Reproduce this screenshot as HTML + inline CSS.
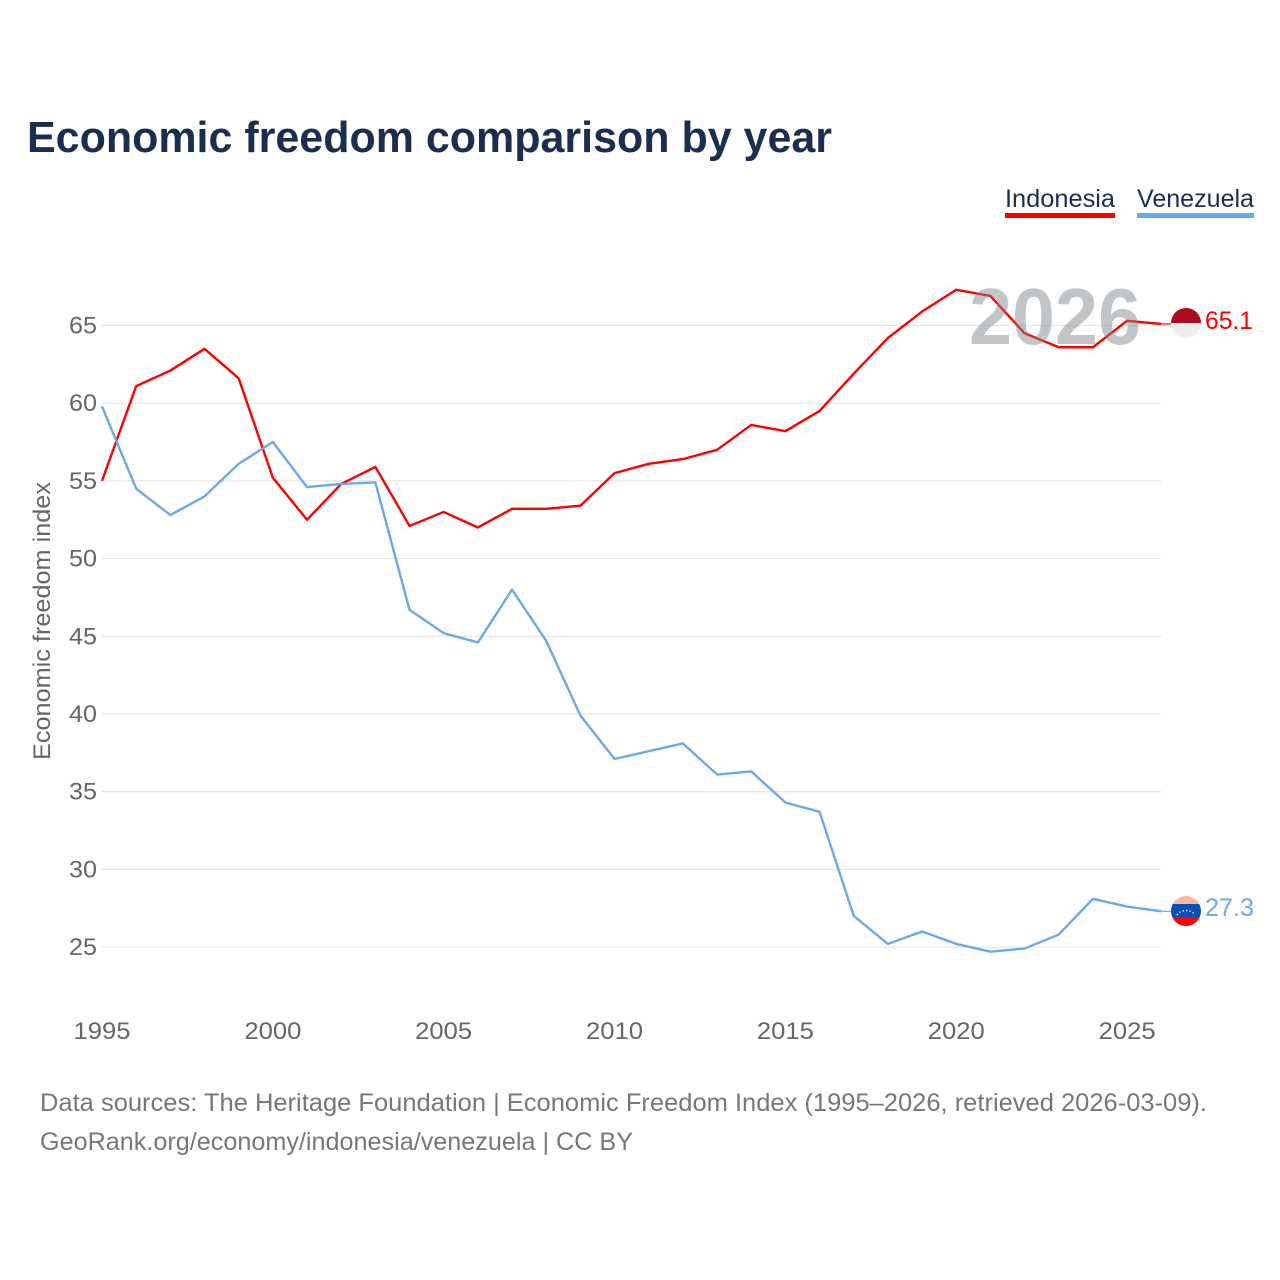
<!DOCTYPE html>
<html lang="en">
<head>
<meta charset="utf-8">
<title>Economic freedom comparison by year</title>
<style>
  html, body { margin: 0; padding: 0; background: #ffffff; }
  svg { display: block; font-family: "Liberation Sans", sans-serif; }
</style>
</head>
<body>
<svg id="chart" xmlns="http://www.w3.org/2000/svg" width="1280" height="1280" viewBox="0 0 1280 1280">
  <defs>
    <clipPath id="flag-clip-id"><circle cx="1186" cy="323" r="15"></circle></clipPath>
    <clipPath id="flag-clip-ve"><circle cx="1186" cy="911" r="15"></circle></clipPath>
  </defs>
  <rect x="0" y="0" width="1280" height="1280" fill="#ffffff"></rect>
  <text x="27" y="152" font-size="44" font-weight="700" fill="#1a2f4f" textLength="805" lengthAdjust="spacingAndGlyphs">Economic freedom comparison by year</text>

  <g>
    <g>
      <text x="1005" y="207" font-size="25" fill="#1a2f4f" textLength="110" lengthAdjust="spacingAndGlyphs">Indonesia</text>
      <rect x="1005" y="213" width="110" height="5" fill="#ff0000"></rect>
    </g>
    <g>
      <text x="1137" y="207" font-size="25" fill="#1a2f4f" textLength="117" lengthAdjust="spacingAndGlyphs">Venezuela</text>
      <rect x="1137" y="213" width="117" height="5" fill="#6aa9ea"></rect>
    </g>
  </g>

  <g id="grid"></g>
  <g id="y-ticks"></g>
  <g id="x-ticks"></g>
  <text transform="translate(50,621) rotate(-90)" text-anchor="middle" font-size="24" fill="#666666" textLength="278" lengthAdjust="spacingAndGlyphs">Economic freedom index</text>

  <g id="series"></g>

  <text x="969" y="344" font-size="80" font-weight="700" fill="#7f868d" fill-opacity="0.48" textLength="172" lengthAdjust="spacingAndGlyphs">2026</text>

  <g id="flag-indonesia" clip-path="url(#flag-clip-id)">
    <rect x="1171" y="308" width="30" height="15" fill="#a80c1e"></rect>
    <rect x="1171" y="323" width="30" height="15" fill="#eeeeee"></rect>
  </g>
  <g id="flag-venezuela" clip-path="url(#flag-clip-ve)">
    <rect x="1171" y="896" width="30" height="8" fill="#ffb8a0"></rect>
    <rect x="1171" y="904" width="30" height="13" fill="#0a50b4"></rect>
    <rect x="1171" y="917" width="30" height="9" fill="#ff0000"></rect>
    <path d="M1177 915 A10 8 0 0 1 1195 915" fill="none" stroke="#ffffff" stroke-width="1.3" stroke-dasharray="1.3 2.2"></path>
  </g>

  <text id="end-label-indonesia" x="1205" y="329" font-size="25" fill="#ff0000" textLength="48" lengthAdjust="spacingAndGlyphs"></text>
  <text id="end-label-venezuela" x="1205" y="916" font-size="25" fill="#6aa9ea" textLength="49" lengthAdjust="spacingAndGlyphs"></text>

  <text x="40" y="1111" font-size="25" fill="#777777" textLength="1167" lengthAdjust="spacingAndGlyphs">Data sources: The Heritage Foundation | Economic Freedom Index (1995–2026, retrieved 2026-03-09).</text>
  <text x="40" y="1150" font-size="25" fill="#777777" textLength="593" lengthAdjust="spacingAndGlyphs">GeoRank.org/economy/indonesia/venezuela | CC BY</text>
</svg>
<script>
const years = [1995,1996,1997,1998,1999,2000,2001,2002,2003,2004,2005,2006,2007,2008,2009,2010,2011,2012,2013,2014,2015,2016,2017,2018,2019,2020,2021,2022,2023,2024,2025,2026];
const indonesia = [55.0,61.1,62.1,63.5,61.6,55.2,52.5,54.8,55.9,52.1,53.0,52.0,53.2,53.2,53.4,55.5,56.1,56.4,57.0,58.6,58.2,59.5,61.9,64.2,65.9,67.3,66.9,64.5,63.6,63.6,65.3,65.1];
const venezuela = [59.8,54.5,52.8,54.0,56.1,57.5,54.6,54.8,54.9,46.7,45.2,44.6,48.0,44.7,39.9,37.1,37.6,38.1,36.1,36.3,34.3,33.7,27.0,25.2,26.0,25.2,24.7,24.9,25.8,28.1,27.6,27.3];
const yTickValues = [25,30,35,40,45,50,55,60,65];
const xTickValues = [1995,2000,2005,2010,2015,2020,2025];

const NS = 'http://www.w3.org/2000/svg';
function xScale(year) { return 102 + (year - 1995) * 34.17; }
function yScale(value) { return 947 - (value - 25) * 15.5375; }
function make(tag, attrs, parent) {
  const el = document.createElementNS(NS, tag);
  for (const key in attrs) { el.setAttribute(key, attrs[key]); }
  parent.appendChild(el);
  return el;
}

const gridGroup = document.getElementById('grid');
const yGroup = document.getElementById('y-ticks');
yTickValues.forEach(function (v) {
  const line = make('line', { x1: 102, x2: 1161, y1: yScale(v), y2: yScale(v), stroke: '#e6e6e6', 'stroke-width': 1.2 }, gridGroup);
  
  
  const label = make('text', { x: 97, y: yScale(v) + 8, 'text-anchor': 'end', 'font-size': 24, fill: '#666666', textLength: 28, lengthAdjust: 'spacingAndGlyphs' }, yGroup);
  
  
  label.textContent = String(v);
});

const xGroup = document.getElementById('x-ticks');
xTickValues.forEach(function (year) {
  const label = make('text', { x: xScale(year), y: 1039, 'text-anchor': 'middle', 'font-size': 24, fill: '#666666', textLength: 57, lengthAdjust: 'spacingAndGlyphs' }, xGroup);
  
  
  label.textContent = String(year);
});

function drawSeries(values, color, seriesName) {
  const group = document.getElementById('series');
  const points = values.map(function (v, i) { return xScale(years[i]) + ',' + yScale(v); }).join(' ');
  const line = make('polyline', { points: points, fill: 'none', stroke: color, 'stroke-width': 2.4, 'stroke-linejoin': 'round' }, group);
  
  
  const last = values[values.length - 1];
  const connector = make('line', { x1: xScale(years[years.length - 1]), x2: 1172, y1: yScale(last), y2: yScale(last), stroke: color, 'stroke-width': 1.2 }, group);
  
  
}
drawSeries(indonesia, '#ff0000', 'indonesia');
drawSeries(venezuela, '#6aa9ea', 'venezuela');

document.getElementById('end-label-indonesia').textContent = indonesia[indonesia.length - 1].toFixed(1);
document.getElementById('end-label-venezuela').textContent = venezuela[venezuela.length - 1].toFixed(1);
</script>
</body>
</html>
